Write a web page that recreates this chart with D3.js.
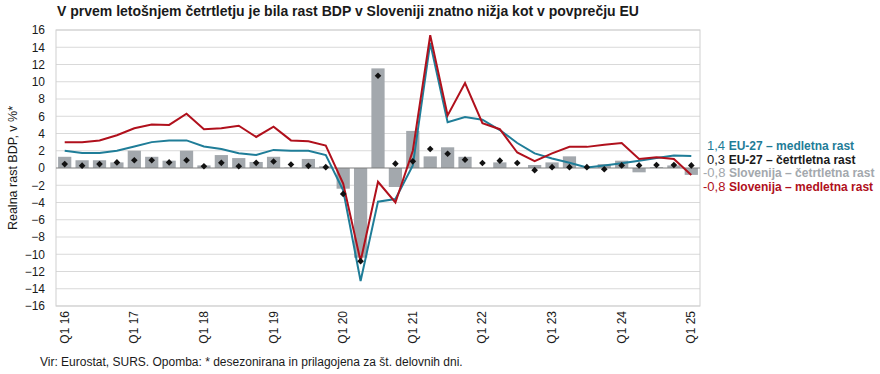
<!DOCTYPE html>
<html>
<head>
<meta charset="utf-8">
<script src="https://cdn.jsdelivr.net/npm/d3@7"></script>
<style>
  body { margin: 0; background: #fff; }
  text { font-family: "Liberation Sans", Arial, sans-serif; }
</style>
</head>
<body>
<svg id="chart" width="880" height="374"></svg>
<script>
(function() {

// quarters Q1 2016 .. Q1 2025
var quarters = ['16Q1','16Q2','16Q3','16Q4','17Q1','17Q2','17Q3','17Q4','18Q1','18Q2','18Q3','18Q4',
                '19Q1','19Q2','19Q3','19Q4','20Q1','20Q2','20Q3','20Q4','21Q1','21Q2','21Q3','21Q4',
                '22Q1','22Q2','22Q3','22Q4','23Q1','23Q2','23Q3','23Q4','24Q1','24Q2','24Q3','24Q4','25Q1'];
var tickQuarters = ['16Q1','17Q1','18Q1','19Q1','20Q1','21Q1','22Q1','23Q1','24Q1','25Q1'];
var tickLabels = ['Q1 16','Q1 17','Q1 18','Q1 19','Q1 20','Q1 21','Q1 22','Q1 23','Q1 24','Q1 25'];

// Slovenija - medletna rast
var siYoy = [3.0, 3.0, 3.2, 3.8, 4.6, 5.05, 5.0, 6.3, 4.5, 4.6, 4.9, 3.6,
             4.8, 3.2, 3.1, 2.6, -1.8, -10.8, -1.6, -4.0, 2.0, 15.4, 6.1, 9.85,
             5.2, 4.5, 1.8, 0.8, 1.7, 2.45, 2.45, 2.7, 2.9, 1.05, 1.25, 1.05, -0.8];
// EU-27 - medletna rast
var euYoy = [2.0, 1.75, 1.75, 2.0, 2.5, 3.0, 3.2, 3.2, 2.5, 2.2, 1.7, 1.5,
             2.1, 2.0, 2.0, 1.5, -2.6, -13.1, -3.9, -3.6, 0.3, 14.5, 5.3, 5.9,
             5.6, 4.4, 2.9, 1.7, 1.1, 0.6, 0.05, 0.3, 0.55, 0.85, 1.15, 1.45, 1.4];
// Slovenija - cetrtletna rast (stolpci)
var siQoq = [1.3, 0.9, 0.9, 0.65, 2.0, 1.3, 0.85, 2.0, 0.3, 1.5, 1.15, 0.7,
             1.3, 0.05, 1.05, 0.2, -2.4, -10.4, 11.55, -2.2, 4.3, 1.35, 2.4, 1.3,
             0.0, 0.65, 0.0, 0.35, 0.65, 1.35, 0.05, 0.45, 0.85, -0.5, 0.1, 0.3, -0.8];
// EU-27 - cetrtletna rast (tocke)
var euQoq = [0.45, 0.27, 0.45, 0.65, 0.9, 0.9, 0.65, 0.9, 0.2, 0.6, 0.2, 0.6,
             0.75, 0.4, 0.25, 0.1, -3.0, -10.8, 10.7, 0.5, 0.77, 2.2, 1.65, 0.97,
             0.58, 0.85, 0.58, -0.25, 0.1, 0.1, 0.1, -0.15, 0.3, 0.3, 0.35, 0.35, 0.3];
var yTicks = [16, 14, 12, 10, 8, 6, 4, 2, 0, -2, -4, -6, -8, -10, -12, -14, -16];

var legendItems = [
    {value: '1,4', label: 'EU-27 – medletna rast', color: '#1f7d98'},
    {value: '0,3', label: 'EU-27 – četrtletna rast', color: '#1a1a1a'},
    {value: '-0,8', label: 'Slovenija – četrtletna rast', color: '#a3a8ad'},
    {value: '-0,8', label: 'Slovenija – medletna rast', color: '#b0101c'}
];

var svg = d3.select('#chart');
var margin = {top: 30, right: 180, bottom: 68, left: 56};
var W = 880, H = 374;

var x = d3.scaleBand().domain(quarters).range([margin.left, W - margin.right]).paddingInner(0.24).paddingOuter(0.12);
var y = d3.scaleLinear().domain([-16, 16]).range([H - margin.bottom, margin.top]);
var cx = q => x(q) + x.bandwidth() / 2;

// title
svg.append('text')
    .attr('x', 57).attr('y', 16)
    .attr('font-size', 14).attr('font-weight', 'bold').attr('fill', '#1a1a1a')
    .attr('textLength', 582).attr('lengthAdjust', 'spacingAndGlyphs')
    .text('V prvem letošnjem četrtletju je bila rast BDP v Sloveniji znatno nižja kot v povprečju EU');

// grid
svg.append('g').selectAll('line')
    .data(yTicks.filter(d => d != 0))
    .join('line')
    .attr('x1', margin.left).attr('x2', W - margin.right)
    .attr('y1', d => y(d)).attr('y2', d => y(d))
    .attr('stroke', '#d9d9d9').attr('stroke-width', 1);

svg.append('rect')
    .attr('x', margin.left).attr('y', margin.top)
    .attr('width', W - margin.right - margin.left).attr('height', H - margin.bottom - margin.top)
    .attr('fill', 'none').attr('stroke', '#cfcfcf');

// y axis labels
var yAxis = d3.axisLeft(y).tickValues(yTicks).tickSize(0).tickPadding(8);
svg.append('g')
    .attr('transform', 'translate(' + (margin.left - 3) + ',0)')
    .call(yAxis)
    .call(g => g.select('.domain').remove())
    .call(g => g.selectAll('text').attr('font-size', 12).attr('fill', '#1a1a1a')
        .style('font-family', '"Liberation Sans", Arial, sans-serif'));

svg.append('text')
    .attr('transform', 'translate(17,' + y(0) + ') rotate(-90)')
    .attr('text-anchor', 'middle')
    .attr('font-size', 12.5).attr('fill', '#1a1a1a')
    .text('Realna rast BDP, v %*');

// bars
svg.append('g').selectAll('rect')
    .data(quarters)
    .join('rect')
    .attr('x', d => x(d))
    .attr('width', x.bandwidth())
    .attr('y', (d, i) => y(Math.max(0, siQoq[i])))
    .attr('height', (d, i) => Math.abs(y(siQoq[i]) - y(0)))
    .attr('fill', '#a3a8ad');

// zero line
svg.append('line')
    .attr('x1', margin.left).attr('x2', W - margin.right)
    .attr('y1', y(0)).attr('y2', y(0))
    .attr('stroke', '#7f7f7f').attr('stroke-width', 1.2);

var line = d3.line().x(d => cx(d.q)).y(d => y(d.v));

svg.append('path')
    .datum(quarters.map((q, i) => ({q: q, v: euYoy[i]})))
    .attr('d', line)
    .attr('fill', 'none').attr('stroke', '#1f7d98').attr('stroke-width', 2);

svg.append('path')
    .datum(quarters.map((q, i) => ({q: q, v: siYoy[i]})))
    .attr('d', line)
    .attr('fill', 'none').attr('stroke', '#b0101c').attr('stroke-width', 2);

// diamonds (square rotated 45 deg)
var diamond = d3.symbol().type(d3.symbolSquare).size(22);
svg.append('g').selectAll('path')
    .data(quarters)
    .join('path')
    .attr('transform', (d, i) => 'translate(' + cx(d) + ',' + y(euQoq[i]) + ') rotate(45)')
    .attr('d', diamond)
    .attr('fill', '#111');

// x labels
svg.append('g').selectAll('text')
    .data(tickQuarters)
    .join('text')
    .attr('transform', d => 'translate(' + (cx(d) + 4) + ',' + (H - margin.bottom + 5) + ') rotate(-90)')
    .attr('text-anchor', 'end')
    .attr('font-size', 12).attr('fill', '#1a1a1a')
    .text((d, i) => tickLabels[i]);

// legend labels on the right
var leg = svg.append('g').selectAll('text')
    .data(legendItems)
    .join('text')
    .attr('x', d => d.value.startsWith('-') ? 703 : 707)
    .attr('y', (d, i) => 150 + i * 13.6)
    .attr('font-weight', 'bold')
    .attr('fill', d => d.color);
leg.append('tspan').attr('font-size', 13).attr('font-weight', 'normal').text(d => d.value + ' ');
leg.append('tspan').attr('font-size', 12).text(d => d.label);

// footer
svg.append('text')
    .attr('x', 40).attr('y', 366)
    .attr('font-size', 12).attr('fill', '#1a1a1a')
    .text('Vir: Eurostat, SURS. Opomba: * desezonirana in prilagojena za št. delovnih dni.');

})()
</script>
</body>
</html>
